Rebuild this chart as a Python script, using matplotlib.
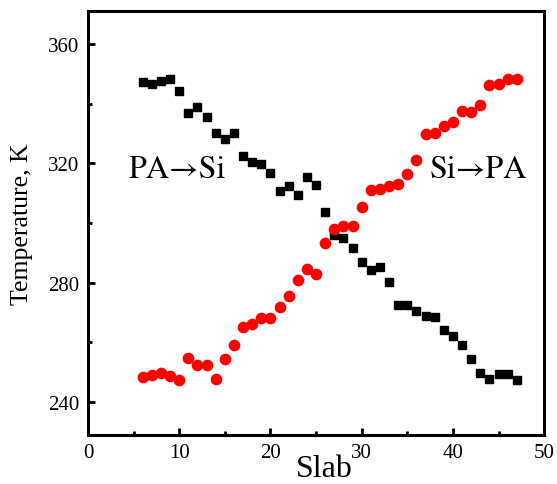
"""Temperature profile across slabs for the two heat-flow directions."""

import matplotlib

matplotlib.use("Agg")
import matplotlib.pyplot as plt
from matplotlib.ticker import MultipleLocator

plt.rcParams["font.family"] = ["Liberation Serif", "DejaVu Serif"]

slab = list(range(6, 48))

# PA -> Si (black squares)
t_pa_si = [
    347.1, 346.5, 347.6, 348.2, 344.3, 336.8, 338.8, 335.5, 330.3, 328.1,
    330.3, 322.6, 320.3, 319.8, 316.8, 310.8, 312.3, 309.5, 315.6, 312.8,
    303.6, 296.1, 294.9, 291.7, 287.1, 284.4, 285.4, 280.1, 272.4, 272.4,
    270.5, 269.0, 268.7, 264.3, 262.2, 259.2, 254.5, 249.7, 247.7, 249.6,
    249.6, 247.4,
]

# Si -> PA (red circles)
t_si_pa = [
    248.5, 249.0, 249.9, 248.9, 247.3, 254.8, 252.3, 252.5, 247.9, 254.4,
    259.0, 265.3, 266.1, 268.1, 268.1, 272.0, 275.7, 280.8, 284.6, 282.9,
    293.3, 298.0, 298.9, 299.1, 305.3, 311.2, 311.4, 312.5, 313.1, 316.4,
    321.0, 329.8, 330.3, 332.6, 333.9, 337.7, 337.3, 339.7, 346.1, 346.5,
    348.2, 348.3,
]


def main():
    fig = plt.figure(figsize=(5.57, 4.85), dpi=100)
    ax = fig.add_axes([0.158, 0.101, 0.819, 0.874])

    ax.plot(slab, t_pa_si, linestyle="none", marker="s", markersize=6.4,
            color="black")
    ax.plot(slab, t_si_pa, linestyle="none", marker="o", markersize=7.4,
            color="red")

    ax.set_xlim(0, 50)
    ax.set_ylim(229, 371)
    ax.xaxis.set_major_locator(MultipleLocator(10))
    ax.xaxis.set_minor_locator(MultipleLocator(5))
    ax.yaxis.set_major_locator(MultipleLocator(40))
    ax.yaxis.set_minor_locator(MultipleLocator(20))

    for spine in ax.spines.values():
        spine.set_linewidth(2.2)
    ax.tick_params(which="major", direction="in", length=5, width=2,
                   labelsize=15, pad=6)
    ax.tick_params(which="minor", direction="in", length=3, width=2)

    ax.set_xlabel("Slab", fontsize=23, labelpad=-6, x=0.518)
    ax.set_ylabel("Temperature, K", fontsize=18.5, labelpad=11)

    # STIX carries a full-width arrow and otherwise matches the Times look
    ax.text(4.4, 315.5, "PA\u2192Si", fontsize=23,
            family=["STIXGeneral", "DejaVu Serif"])
    ax.text(37.4, 315.5, "Si\u2192PA", fontsize=23,
            family=["STIXGeneral", "DejaVu Serif"])

    fig.savefig("out.png", dpi=100)


if __name__ == "__main__":
    main()
